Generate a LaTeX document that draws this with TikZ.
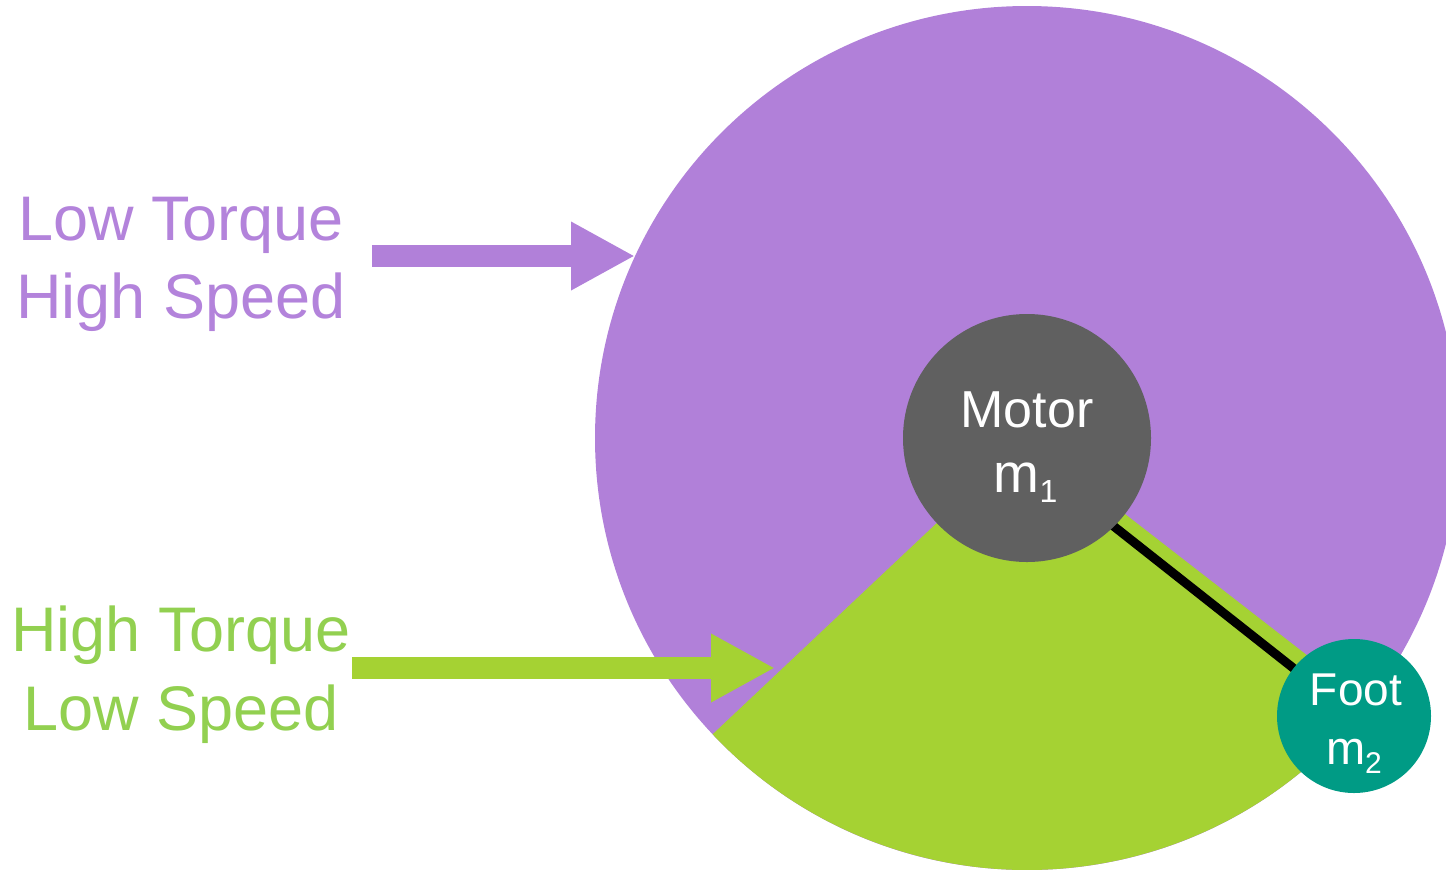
\documentclass[tikz,border=0pt]{standalone}
\usepackage{fontspec}
\setmainfont{Liberation Sans}
\usetikzlibrary{arrows.meta}
\definecolor{lav}{HTML}{B180D9}
\definecolor{lavtext}{HTML}{B383DB}
\definecolor{lime}{HTML}{A5D233}
\definecolor{limetext}{HTML}{92D050}
\definecolor{motorgray}{HTML}{606060}
\definecolor{footteal}{HTML}{009B85}
\begin{document}
\begin{tikzpicture}[x=0.5pt,y=-0.5pt,
  lbl/.style={font=\fontsize{31.5pt}{37pt}\selectfont, inner sep=0pt, anchor=base},
  mass/.style={circle, inner sep=0pt, draw=none},
  intext/.style={text=white, inner sep=0pt, anchor=base},
  blockarrow/.style={line width=10.8pt, -{Triangle[length=32pt, width=32pt]}}
]
\useasboundingbox (0,0) rectangle (1446,869);
\begin{scope}
\clip (0,0) rectangle (1446,869);
% big disc
\coordinate (c) at (1027,438);
\fill[lav] (c) circle[radius=216pt];
% green sector
\fill[lime] (c) -- ++(223.3:216pt) arc[start angle=223.3, end angle=322.2, radius=216pt] -- cycle;
\end{scope}
% rod
\coordinate (rodstart) at (1040,468);
\coordinate (footc) at (1354,716);
\draw[line width=4.5pt, black] (rodstart) -- (footc);
\node[mass, fill=footteal, minimum size=77pt] (foot) at (footc) {};
\node[mass, fill=motorgray, minimum size=124pt] (motor) at (c) {};
% mass texts
\node[intext, font=\fontsize{26pt}{26pt}\selectfont] (motort) at (1027,427.7) {Motor};
\node[intext, font=\fontsize{27.5pt}{27.5pt}\selectfont] (m1) at (1025.5,492.7) {m\raisebox{-5pt}{\fontsize{16pt}{16pt}\selectfont 1}};
\node[intext, font=\fontsize{23pt}{23pt}\selectfont] (foott) at (1356,705) {Foot};
\node[intext, font=\fontsize{23.5pt}{23.5pt}\selectfont] (m2) at (1354,764) {m\raisebox{-4.5pt}{\fontsize{15pt}{15pt}\selectfont 2}};
% labels
\node[lbl, text=lavtext] (lt1) at (181,240.7) {Low Torque};
\node[lbl, text=lavtext] (lt2) at (181,318) {High Speed};
\node[lbl, text=limetext] (ht1) at (181,651.7) {High Torque};
\node[lbl, text=limetext] (ht2) at (181,730) {Low Speed};
% arrows
\coordinate (a1s) at (372,256);
\coordinate (a1e) at (635,256);
\coordinate (a2s) at (352,668);
\coordinate (a2e) at (775,668);
\draw[blockarrow, lav] (a1s) -- (a1e);
\draw[blockarrow, lime] (a2s) -- (a2e);
\end{tikzpicture}
\end{document}
